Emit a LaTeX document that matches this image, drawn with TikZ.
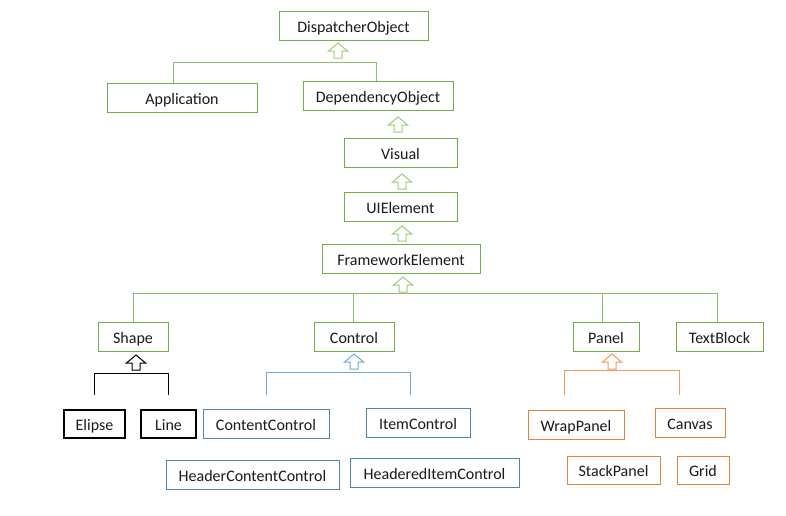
\documentclass[tikz,border=0pt]{standalone}
\usepackage{fontspec}
\setmainfont{Carlito}
\definecolor{gbox}{HTML}{70AD47}
\definecolor{gline}{HTML}{8CC06A}
\definecolor{garrow}{HTML}{9CCB7C}
\definecolor{bbox}{HTML}{4F86AE}
\definecolor{bline}{HTML}{6FA7D6}
\definecolor{obox}{HTML}{E2823C}
\definecolor{oline}{HTML}{EE9A5C}
\definecolor{txt}{HTML}{1A1A1A}
\tikzset{
  cls/.style={draw, line width=0.9pt, inner sep=0pt, minimum height=29pt, text height=13pt, text depth=0pt, text=txt, font=\fontsize{16}{19}\selectfont},
  gcls/.style={cls, draw=gbox},
  bcls/.style={cls, draw=bbox},
  ocls/.style={cls, draw=obox},
  kcls/.style={cls, draw=black, line width=1.1pt, minimum height=28pt},
  link/.style={line width=1pt},
  uparrow/.pic={\draw[line width=1pt, line join=miter, pic actions] (-4,0) -- (-4,-7) -- (-9.5,-7) -- (0,-15) -- (9.5,-7) -- (4,-7) -- (4,0) -- cycle;}
}
\begin{document}
\begin{tikzpicture}[x=1pt,y=-1pt]
\useasboundingbox[fill=white] (0,0) rectangle (786,515);
% top levels
\node[gcls, minimum width=149pt] (disp) at (353.5,25.5) {DispatcherObject};
\node[gcls, minimum width=150pt] (app) at (182,97.5) {Application};
\node[gcls, minimum width=150pt] (dep) at (378,95.5) {DependencyObject};
\node[gcls, minimum width=113pt] (vis) at (400.5,152.5) {Visual};
\node[gcls, minimum width=113pt] (uie) at (400.5,206.5) {UIElement};
\node[gcls, minimum width=158pt] (fe) at (401,258.5) {FrameworkElement};
% second level
\node[gcls, minimum width=70pt] (shape) at (133,336.5) {Shape};
\node[gcls, minimum width=80pt] (control) at (354,336.5) {Control};
\node[gcls, minimum width=66pt] (panel) at (606,336.5) {Panel};
\node[gcls, minimum width=87pt] (tb) at (719.5,336.5) {TextBlock};
% shape children
\node[kcls, minimum width=61pt] (elipse) at (94.5,424) {Elipse};
\node[kcls, minimum width=55pt] (line) at (168.5,424) {Line};
% control children
\node[bcls, minimum width=126pt] (cc) at (266,423.5) {ContentControl};
\node[bcls, minimum width=104pt] (ic) at (418,422.5) {ItemControl};
\node[bcls, minimum width=173pt] (hcc) at (252.5,474.5) {HeaderContentControl};
\node[bcls, minimum width=169pt] (hic) at (434.5,472.5) {HeaderedItemControl};
% panel children
\node[ocls, minimum width=96pt] (wp) at (576,424.5) {WrapPanel};
\node[ocls, minimum width=70pt] (canvas) at (690,422.5) {Canvas};
\node[ocls, minimum width=93pt, minimum height=28pt] (sp) at (613.5,470) {StackPanel};
\node[ocls, minimum width=52pt, minimum height=28pt] (grid) at (703,470) {Grid};

% connectors (green)
\draw[link, gline] ([xshift=-9pt]app.north) -- ++(0,-20) -| ([xshift=-2pt]dep.north);
\pic[draw=garrow] at (338,58) {uparrow};
\pic[draw=garrow] at (398,132) {uparrow};
\pic[draw=garrow] at (402,189) {uparrow};
\pic[draw=garrow] at (402,241) {uparrow};
\pic[draw=garrow] at (403,292) {uparrow};
\draw[link, gline] (shape.north) -- ++(0,-28) -| ([xshift=-2.5pt]tb.north);
\draw[link, gline] ([xshift=-1pt]control.north) -- ++(0,-28);
\draw[link, gline] ([xshift=-4pt]panel.north) -- ++(0,-28);
% shape
\pic[draw=black] at (136,370) {uparrow};
\draw[link, black, line width=1.2pt] ([yshift=14pt]elipse.north) -- ++(0,-22) -| ([yshift=14pt]line.north);
% control
\pic[draw=bline] at (354,369) {uparrow};
\draw[link, bline] ([yshift=14pt]cc.north) -- ++(0,-22) -| ([xshift=-8pt,yshift=13pt]ic.north);
% panel
\pic[draw=oline] at (612,369) {uparrow};
\draw[link, oline] ([xshift=-12pt,yshift=15pt]wp.north) -- ++(0,-24) -| ([xshift=-11pt,yshift=13pt]canvas.north);
\end{tikzpicture}
\end{document}
